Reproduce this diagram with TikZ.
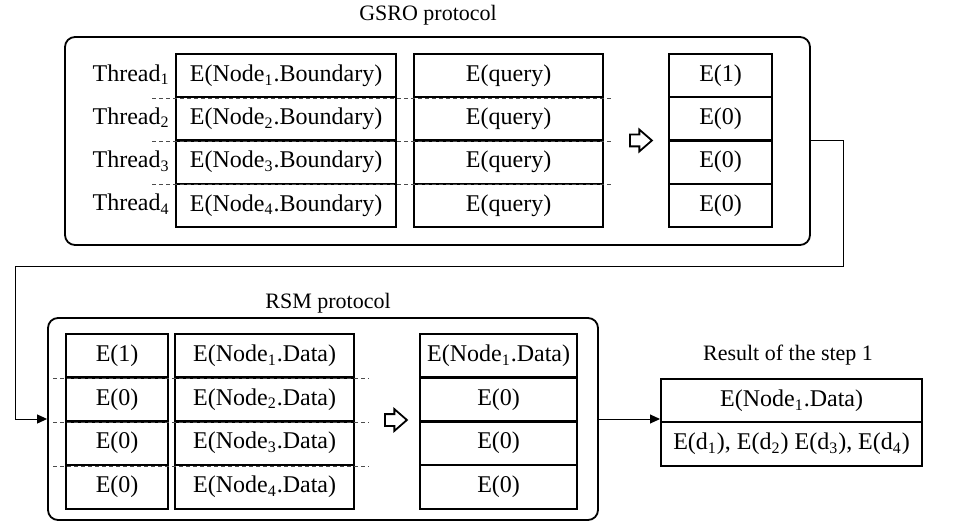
\documentclass[tikz,border=0pt]{standalone}
\usepackage{fontspec}
\setmainfont{Liberation Serif}
\usetikzlibrary{arrows.meta}
\usetikzlibrary{shapes.arrows}

\tikzset{
  cell/.style={draw, line width=1.1pt, inner sep=0pt, anchor=north west,
    minimum width=#1*0.5pt, minimum height=21.625pt},
  frame/.style={draw, line width=0.9pt, rounded corners=5pt, inner sep=0pt},
  sepline/.style={draw=black!70, line width=0.45pt, dash pattern=on 2pt off 1.5pt},
  conn/.style={draw, line width=0.5pt, -{Triangle[length=5pt, width=4.5pt]}},
  hollow/.style={single arrow, draw, line width=0.9pt, inner sep=2.5pt,
    minimum height=11pt, minimum width=10pt, single arrow head extend=2.5pt,
    single arrow tip angle=82},
  title/.style={font=\fontsize{11}{13}\selectfont},
}

\begin{document}
\begin{tikzpicture}[x=0.5pt, y=-0.5pt, font=\fontsize{12}{14}\selectfont]
    \useasboundingbox (0,0) rectangle (967,523);
    % GSRO protocol
    \node[title] (gsrotitle) at (428,15) {GSRO protocol};
    \node[frame, minimum width=372.5pt, minimum height=104pt] (gsro) at (437.5,141) {};
    \foreach \i in {1,...,4} {
      \node[cell=220] (b\i) at (175,{53+43.25*(\i-1)}) {E(Node\textsubscript{\i}.Boundary)};
      \node[cell=189] (q\i) at (413,{53+43.25*(\i-1)}) {E(query)};
      \node[anchor=east, inner sep=0pt] (t\i) at (170,{74.6+43.25*(\i-1)}) {Thread\textsubscript{\i}};
    }
    \node[cell=103] (r1) at (668,53) {E(1)};
    \foreach \i in {2,3,4}
      \node[cell=103] (r\i) at (668,{53+43.25*(\i-1)}) {E(0)};
    \foreach \i in {1,2,3}
      \draw[sepline] ([xshift=-11.5pt]b\i.south west) -- ([xshift=4pt]q\i.south east);
    \node[hollow] (gsroarrow) at (637.5,140.5) {};

    % RSM protocol
    \node[title] (rsmtitle) at (328,303) {RSM protocol};
    \node[frame, minimum width=275pt, minimum height=101pt] (rsm) at (323,419) {};
    \node[cell=102] (s1) at (65,333) {E(1)};
    \node[cell=157] (o1) at (419,333) {E(Node\textsubscript{1}.Data)};
    \foreach \i in {2,3,4} {
      \node[cell=102] (s\i) at (65,{333+43.75*(\i-1)}) {E(0)};
      \node[cell=157] (o\i) at (419,{333+43.75*(\i-1)}) {E(0)};
    }
    \foreach \i in {1,...,4}
      \node[cell=179] (d\i) at (174,{333+43.75*(\i-1)}) {E(Node\textsubscript{\i}.Data)};
    \foreach \i in {1,2,3}
      \draw[sepline] ([xshift=-6pt]s\i.south west) -- ([xshift=7pt]d\i.south east);
    \node[hollow] (rsmarrow) at (392.5,420) {};

    % link GSRO -> RSM
    \coordinate (bendR) at (843,267);
    \coordinate (bendL) at (15,267);
    \draw[conn] (gsro.east) -| (bendR) -- (bendL) |- (rsm.west);

    % result
    \node[title] (restitle) at (788,355) {Result of the step 1};
    \node[cell=261] (res1) at (660,378) {E(Node\textsubscript{1}.Data)};
    \node[cell=261] (res2) at (660,421.25) {E(d\textsubscript{1}), E(d\textsubscript{2}) E(d\textsubscript{3}), E(d\textsubscript{4})};
    \draw[conn] (rsm.east) -- (rsm.east -| res1.south west);
\end{tikzpicture}
\end{document}
